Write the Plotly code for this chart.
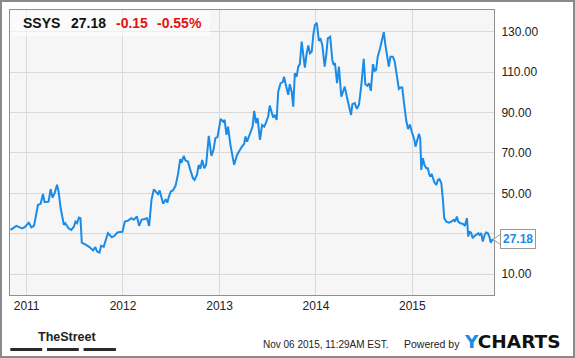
import plotly.graph_objects as go

# ---------------- data ----------------
dates = [
    "2010-11-01", "2010-11-23", "2010-12-15", "2010-12-25", "2011-01-09", "2011-01-19", "2011-01-29",
    "2011-02-13", "2011-02-23", "2011-03-04", "2011-03-10", "2011-03-25", "2011-04-02", "2011-04-09",
    "2011-04-17", "2011-04-26", "2011-05-02", "2011-05-10", "2011-05-22", "2011-05-27", "2011-06-09",
    "2011-06-19", "2011-06-29", "2011-07-05", "2011-07-11", "2011-07-18", "2011-07-24", "2011-07-29",
    "2011-08-14", "2011-08-27", "2011-09-10", "2011-09-18", "2011-09-25", "2011-10-04", "2011-10-10",
    "2011-10-20", "2011-11-05", "2011-11-20", "2011-11-30", "2011-12-10", "2011-12-20", "2011-12-30",
    "2012-01-08", "2012-01-20", "2012-02-02", "2012-02-11", "2012-02-23", "2012-03-02", "2012-03-11",
    "2012-03-24", "2012-04-01", "2012-04-09", "2012-04-18", "2012-04-27", "2012-05-07", "2012-05-13",
    "2012-05-19", "2012-05-26", "2012-06-01", "2012-06-11", "2012-06-17", "2012-06-23", "2012-06-30",
    "2012-07-08", "2012-07-18", "2012-07-27", "2012-08-05", "2012-08-10", "2012-08-18", "2012-08-25",
    "2012-09-03", "2012-09-12", "2012-09-22", "2012-09-28", "2012-10-07", "2012-10-14", "2012-10-20",
    "2012-10-27", "2012-11-04", "2012-11-11", "2012-11-21", "2012-12-01", "2012-12-09", "2012-12-16",
    "2012-12-24", "2013-01-01", "2013-01-05", "2013-01-14", "2013-01-20", "2013-01-27", "2013-02-02",
    "2013-02-11", "2013-02-25", "2013-03-08", "2013-03-16", "2013-03-26", "2013-04-04", "2013-04-09",
    "2013-04-15", "2013-04-26", "2013-05-06", "2013-05-12", "2013-05-19", "2013-05-25", "2013-06-03",
    "2013-06-11", "2013-06-19", "2013-06-25", "2013-07-04", "2013-07-10", "2013-07-17", "2013-07-23",
    "2013-07-29", "2013-08-05", "2013-08-11", "2013-08-20", "2013-08-28", "2013-09-02", "2013-09-09",
    "2013-09-18", "2013-09-24", "2013-10-01", "2013-10-07", "2013-10-13", "2013-10-20", "2013-10-26",
    "2013-11-01", "2013-11-08", "2013-11-14", "2013-11-20", "2013-11-27", "2013-12-03", "2013-12-09",
    "2013-12-16", "2013-12-22", "2013-12-28", "2014-01-03", "2014-01-05", "2014-01-12", "2014-01-18",
    "2014-01-25", "2014-02-03", "2014-02-09", "2014-02-15", "2014-02-24", "2014-03-04", "2014-03-09",
    "2014-03-14", "2014-03-22", "2014-03-29", "2014-04-07", "2014-04-13", "2014-04-20", "2014-04-28",
    "2014-05-06", "2014-05-14", "2014-05-19", "2014-05-28", "2014-06-05", "2014-06-13", "2014-06-22",
    "2014-07-01", "2014-07-07", "2014-07-15", "2014-07-21", "2014-07-28", "2014-08-05", "2014-08-11",
    "2014-08-17", "2014-08-23", "2014-09-01", "2014-09-09", "2014-09-15", "2014-09-21", "2014-09-28",
    "2014-10-04", "2014-10-10", "2014-10-19", "2014-10-26", "2014-11-03", "2014-11-11", "2014-11-17",
    "2014-11-24", "2014-11-30", "2014-12-09", "2014-12-16", "2014-12-23", "2014-12-30", "2015-01-06",
    "2015-01-09", "2015-01-13", "2015-01-18", "2015-01-26", "2015-01-31", "2015-02-04", "2015-02-10",
    "2015-02-16", "2015-02-23", "2015-03-01", "2015-03-05", "2015-03-10", "2015-03-15", "2015-03-20",
    "2015-03-26", "2015-04-02", "2015-04-08", "2015-04-14", "2015-04-21", "2015-04-27", "2015-05-02",
    "2015-05-10", "2015-05-20", "2015-05-29", "2015-06-07", "2015-06-12", "2015-06-19", "2015-06-24",
    "2015-07-02", "2015-07-12", "2015-07-19", "2015-07-27", "2015-08-01", "2015-08-06", "2015-08-12",
    "2015-08-18", "2015-08-25", "2015-08-31", "2015-09-08", "2015-09-13", "2015-09-19", "2015-09-25",
    "2015-10-02", "2015-10-08", "2015-10-14", "2015-10-20", "2015-10-25", "2015-10-31", "2015-11-06",
]
prices = [
    31.9, 33.9, 32.6, 33.3, 35.5, 33.2, 33.9,
    44.3, 44.8, 49.7, 45.6, 45.9, 52.0, 47.9,
    50.0, 54.2, 50.9, 42.6, 34.4, 35.2, 32.7,
    31.9, 33.5, 36.0, 35.2, 38.0, 37.7, 25.6,
    24.5, 23.4, 21.7, 23.4, 21.2, 20.7, 24.0,
    23.6, 30.3, 28.3, 29.0, 30.6, 30.9, 31.0,
    36.0, 36.5, 37.7, 36.9, 38.5, 33.9, 36.9,
    37.2, 37.7, 33.9, 46.8, 52.0, 50.4, 49.6,
    51.4, 48.4, 44.8, 47.1, 45.4, 48.4, 50.9,
    51.4, 53.7, 59.1, 66.9, 65.2, 68.5, 66.2,
    65.7, 61.6, 57.5, 56.6, 59.1, 64.1, 62.1,
    66.5, 62.4, 64.1, 78.4, 68.5, 71.5, 77.3,
    77.8, 83.8, 86.8, 85.5, 86.3, 78.9, 83.0,
    74.0, 64.1, 69.0, 71.0, 73.0, 74.5, 78.1,
    75.6, 79.7, 83.0, 90.8, 84.7, 87.2, 76.4,
    83.8, 83.0, 84.7, 88.0, 93.4, 90.8, 87.5,
    88.8, 86.3, 100.3, 104.5, 105.0, 107.7, 103.6,
    98.7, 104.0, 100.3, 92.9, 109.4, 107.7, 112.7,
    113.9, 125.1, 118.5, 112.2, 119.3, 123.1, 119.3,
    120.1, 128.4, 133.3, 134.1, 133.6, 125.4, 126.7,
    123.4, 112.7, 118.5, 126.7, 127.5, 116.0, 113.5,
    114.4, 104.5, 112.7, 97.8, 100.0, 102.8, 97.8,
    92.9, 88.8, 94.1, 94.6, 91.8, 93.8, 103.6,
    116.5, 104.0, 103.2, 104.5, 100.7, 113.9, 110.6,
    111.1, 117.6, 121.8, 125.9, 129.7, 123.4, 116.8,
    112.7, 117.6, 117.6, 115.5, 107.7, 101.7, 102.3,
    102.3, 95.4, 86.0, 81.8, 84.0, 80.5, 78.1,
    76.4, 73.1, 75.6, 79.4, 77.3, 61.6, 67.4,
    64.1, 62.4, 62.4, 59.9, 58.3, 59.6, 57.0,
    55.3, 54.2, 56.6, 57.0, 55.0, 46.8, 37.7,
    36.0, 35.5, 36.0, 36.9, 36.0, 38.5, 36.0,
    35.2, 34.9, 33.9, 37.7, 28.6, 31.1, 30.3,
    27.8, 29.0, 29.4, 30.3, 29.4, 30.3, 26.2,
    29.4, 30.6, 30.3, 28.6, 25.6, 27.0, 27.18,
]

ticker = "SSYS"
last_price = "27.18"
change = "-0.15"
change_pct = "-0.55%"
timestamp = "Nov 06 2015, 11:29AM EST."
year_ticks = ["2011-01-01", "2012-01-01", "2013-01-01", "2014-01-01", "2015-01-01"]
year_labels = ["2011", "2012", "2013", "2014", "2015"]
y_ticks = [10, 30, 50, 70, 90, 110, 130]
y_labels = ["10.00", "30.00", "50.00", "70.00", "90.00", "110.00", "130.00"]

# ---------------- layout helpers ----------------
W, H = 575, 358
ML, MR, MT, MB = 10, 81, 10, 63
PW, PH = W - ML - MR, H - MT - MB
Y_MIN, Y_MAX = -0.3, 140.7
BLUE = "#1a8be6"
FONT = "Liberation Sans, Arial, sans-serif"


def pxx(x):
    return (x - ML) / PW


def pxy(y):
    return (H - MB - y) / PH


def yval_paper(v):
    return (v - Y_MIN) / (Y_MAX - Y_MIN)


fig = go.Figure()
fig.add_trace(go.Scatter(
    x=dates, y=prices, mode="lines",
    line=dict(color=BLUE, width=2),
    hoverinfo="skip", showlegend=False,
))

fig.update_layout(
    width=W, height=H,
    margin=dict(l=ML, r=MR, t=MT, b=MB, pad=0),
    paper_bgcolor="white",
    plot_bgcolor="#f6f6f6",
    font=dict(family=FONT, size=12, color="#222"),
    xaxis=dict(
        type="date", range=["2010-10-30", "2015-11-06 12:00"],
        tickvals=year_ticks, ticktext=year_labels,
        showgrid=True, gridcolor="#d9d9d9", gridwidth=1,
        showline=True, linecolor="#8f8f8f", linewidth=1, mirror=True,
        ticks="", zeroline=False, fixedrange=True,
        tickfont=dict(size=12, color="#222"),
    ),
    yaxis=dict(
        range=[Y_MIN, Y_MAX], side="right",
        tickvals=y_ticks, ticktext=y_labels,
        showgrid=True, gridcolor="#d9d9d9", gridwidth=1,
        showline=True, linecolor="#8f8f8f", linewidth=1, mirror=True,
        ticks="", zeroline=False, fixedrange=True,
        ticklabelstandoff=4,
        tickfont=dict(size=12, color="#222"),
    ),
)

shapes = []
# header box
shapes.append(dict(type="rect", xref="paper", yref="paper",
                   x0=pxx(10.5), x1=pxx(210), y0=pxy(36), y1=pxy(10.5),
                   fillcolor="rgba(255,255,255,0.55)", line=dict(width=0), layer="above"))
# outer border
shapes.append(dict(type="rect", xref="paper", yref="paper",
                   x0=pxx(1), x1=pxx(574), y0=pxy(357), y1=pxy(1),
                   fillcolor="rgba(0,0,0,0)", line=dict(color="#8a8a8a", width=2), layer="above"))
# price pointer
yv = yval_paper(prices[-1])
d = 5 / PH
shapes.append(dict(type="path", xref="paper", yref="paper",
                   path=f"M {pxx(500)},{yv + d} L {pxx(493.5)},{yv} L {pxx(500)},{yv - d}",
                   fillcolor="white", line=dict(color="#999", width=1), layer="above"))
# TheStreet bars
for a, b in [(10.3, 42.2), (47, 78.8), (83.6, 115.9)]:
    shapes.append(dict(type="rect", xref="paper", yref="paper",
                       x0=pxx(a), x1=pxx(b), y0=pxy(351), y1=pxy(348),
                       fillcolor="#2a2a2a", line=dict(width=0), layer="above"))
fig.update_layout(shapes=shapes)

ann = []
ty = pxy(23)
for txt, x0, col in [(ticker, 21, "#111"), (last_price, 68.5, "#111"),
                     (change, 113.5, "#e8100f"), (change_pct, 154.5, "#e8100f")]:
    ann.append(dict(xref="paper", yref="paper", x=pxx(x0), y=ty, xanchor="left", yanchor="middle",
                    text=f"<b>{txt}</b>", showarrow=False,
                    font=dict(family=FONT, size=14, color=col)))
# last price label
ann.append(dict(xref="paper", yref="y", x=pxx(499.5), y=prices[-1], xanchor="left", yanchor="middle",
                text=f"<b>{last_price}</b>", showarrow=False, bgcolor="white",
                bordercolor="#999", borderwidth=1, borderpad=2,
                font=dict(family=FONT, size=12, color=BLUE)))
# footer
ann.append(dict(xref="paper", yref="paper", x=pxx(35.5), y=pxy(336.5), xanchor="left", yanchor="middle",
                text="<b>TheStreet</b>", showarrow=False,
                font=dict(family="Liberation Sans Narrow, Arial Narrow, Liberation Sans, sans-serif",
                          size=12.5, color="#222")))
ann.append(dict(xref="paper", yref="paper", x=pxx(261), y=pxy(344), xanchor="left", yanchor="middle",
                text=timestamp, showarrow=False,
                font=dict(family=FONT, size=10, color="#222")))
ann.append(dict(xref="paper", yref="paper", x=pxx(402), y=pxy(344), xanchor="left", yanchor="middle",
                text="Powered by", showarrow=False,
                font=dict(family=FONT, size=10.5, color="#222")))
ann.append(dict(xref="paper", yref="paper", x=pxx(462), y=pxy(341.5), xanchor="left", yanchor="middle",
                text=f"<span style='color:{BLUE}'>Y</span>CHARTS", showarrow=False,
                font=dict(family="DejaVu Sans, sans-serif", size=18.5, color="#111", weight="bold")))
fig.update_layout(annotations=ann)

fig.write_html("out.html")
